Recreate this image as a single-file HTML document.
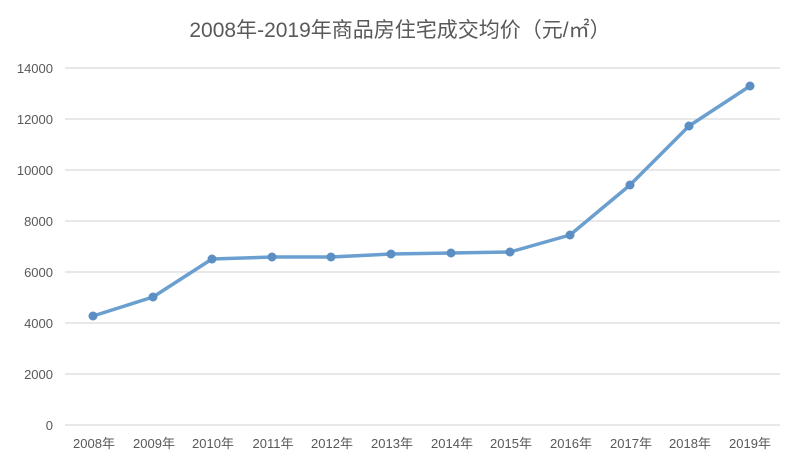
<!DOCTYPE html>
<html><head><meta charset="utf-8"><style>
html,body{margin:0;padding:0;background:#fff;}
svg{display:block;}
text{font-family:"Liberation Sans","Noto Sans CJK SC",sans-serif;}
</style></head><body>
<svg width="800" height="469" viewBox="0 0 800 469" xmlns="http://www.w3.org/2000/svg">
<rect width="800" height="469" fill="#fff"/>
<text x="400" y="37" text-anchor="middle" font-size="21" fill="#595959">2008年-2019年商品房住宅成交均价（元/㎡）</text>
<g stroke="#d9d9d9" stroke-width="1.2">
<line x1="65" x2="780" y1="68" y2="68"/>
<line x1="65" x2="780" y1="119" y2="119"/>
<line x1="65" x2="780" y1="170" y2="170"/>
<line x1="65" x2="780" y1="221" y2="221"/>
<line x1="65" x2="780" y1="272" y2="272"/>
<line x1="65" x2="780" y1="323" y2="323"/>
<line x1="65" x2="780" y1="374" y2="374"/>
<line x1="65" x2="780" y1="425" y2="425"/>
</g>
<g font-size="13" fill="#595959" text-anchor="end">
<text x="53" y="73">14000</text>
<text x="53" y="124">12000</text>
<text x="53" y="175">10000</text>
<text x="53" y="226">8000</text>
<text x="53" y="277">6000</text>
<text x="53" y="328">4000</text>
<text x="53" y="379">2000</text>
<text x="53" y="430">0</text>
</g>
<g font-size="13" fill="#595959" text-anchor="middle">
<text x="94" y="448">2008年</text><text x="154" y="448">2009年</text><text x="213" y="448">2010年</text>
<text x="273" y="448">2011年</text><text x="332" y="448">2012年</text><text x="392" y="448">2013年</text>
<text x="452" y="448">2014年</text><text x="511" y="448">2015年</text><text x="571" y="448">2016年</text>
<text x="631" y="448">2017年</text><text x="690" y="448">2018年</text><text x="750" y="448">2019年</text>
</g>
<polyline fill="none" stroke="#6a9fcf" stroke-width="3.5" stroke-linejoin="round"
points="93,316 153,297 212,259 272,257 331,257 391,254 451,253 510,252 570,235 630,185 689,126 750,86"/>
<g fill="#5b8fc4">
<circle cx="93" cy="316" r="4.5"/><circle cx="153" cy="297" r="4.5"/><circle cx="212" cy="259" r="4.5"/>
<circle cx="272" cy="257" r="4.5"/><circle cx="331" cy="257" r="4.5"/><circle cx="391" cy="254" r="4.5"/>
<circle cx="451" cy="253" r="4.5"/><circle cx="510" cy="252" r="4.5"/><circle cx="570" cy="235" r="4.5"/>
<circle cx="630" cy="185" r="4.5"/><circle cx="689" cy="126" r="4.5"/><circle cx="750" cy="86" r="4.5"/>
</g>
</svg>
</body></html>
